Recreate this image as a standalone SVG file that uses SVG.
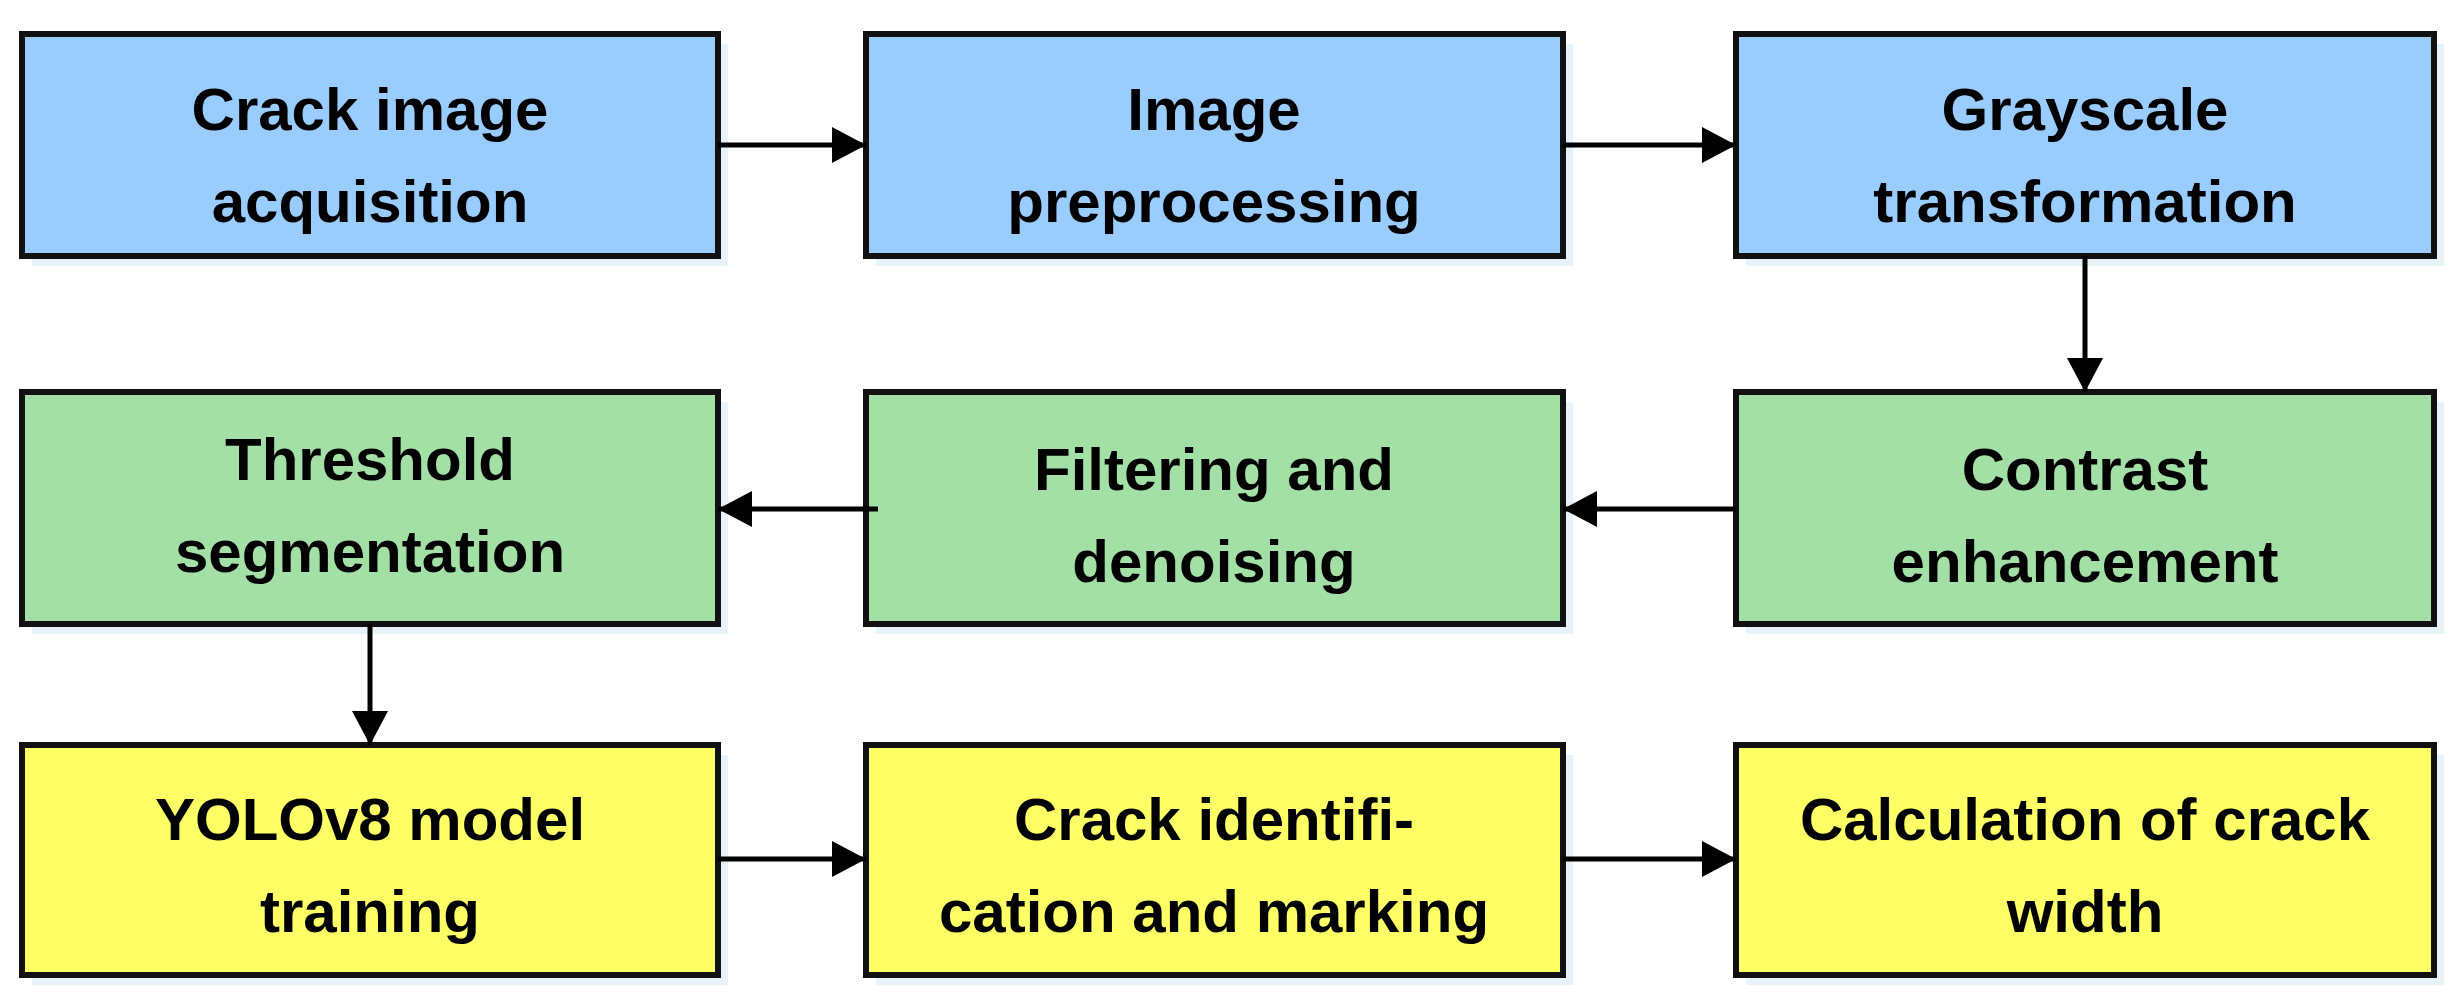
<svg xmlns="http://www.w3.org/2000/svg" width="2459" height="1002" viewBox="0 0 2459 1002">
<style>
.b{stroke:#111;stroke-width:6}
.s{fill:#e6f3fb}
.blue{fill:#99ccff}.green{fill:#a3e0a5}.yellow{fill:#ffff66}
text{font-family:"Liberation Sans",Arial,sans-serif;font-weight:bold;font-size:60px;fill:#000;text-anchor:middle}
.c{stroke:#000;stroke-width:5;fill:none;marker-end:url(#a)}
</style>
<defs><marker id="a" markerUnits="userSpaceOnUse" markerWidth="34" markerHeight="36" refX="34" refY="18" orient="auto"><path d="M0,0L34,18L0,36z" fill="#000"/></marker></defs>
<rect width="2459" height="1002" fill="#fff"/>
<g id="n1"><rect class="s" x="32" y="44" width="696" height="222"/><rect class="b blue" x="22" y="34" width="696" height="222"/><text x="370" y="130">Crack image</text><text x="370" y="222">acquisition</text></g>
<g id="n2"><rect class="s" x="876" y="44" width="697" height="222"/><rect class="b blue" x="866" y="34" width="697" height="222"/><text x="1214" y="130">Image</text><text x="1214" y="222">preprocessing</text></g>
<g id="n3"><rect class="s" x="1746" y="44" width="698" height="222"/><rect class="b blue" x="1736" y="34" width="698" height="222"/><text x="2085" y="130">Grayscale</text><text x="2085" y="222">transformation</text></g>
<g id="n4"><rect class="s" x="1746" y="402" width="698" height="232"/><rect class="b green" x="1736" y="392" width="698" height="232"/><text x="2085" y="490">Contrast</text><text x="2085" y="582">enhancement</text></g>
<g id="n5"><rect class="s" x="876" y="402" width="697" height="232"/><rect class="b green" x="866" y="392" width="697" height="232"/><text x="1214" y="490">Filtering and</text><text x="1214" y="582">denoising</text></g>
<g id="n6"><rect class="s" x="32" y="402" width="696" height="232"/><rect class="b green" x="22" y="392" width="696" height="232"/><text x="370" y="480">Threshold</text><text x="370" y="572">segmentation</text></g>
<g id="n7"><rect class="s" x="32" y="755" width="696" height="230"/><rect class="b yellow" x="22" y="745" width="696" height="230"/><text x="370" y="840">YOLOv8 model</text><text x="370" y="932">training</text></g>
<g id="n8"><rect class="s" x="876" y="755" width="697" height="230"/><rect class="b yellow" x="866" y="745" width="697" height="230"/><text x="1214" y="840">Crack identifi-</text><text x="1214" y="932">cation and marking</text></g>
<g id="n9"><rect class="s" x="1746" y="755" width="698" height="230"/><rect class="b yellow" x="1736" y="745" width="698" height="230"/><text x="2085" y="840">Calculation of crack</text><text x="2085" y="932">width</text></g>
<g id="connectors">
<line class="c" x1="718" y1="145" x2="866" y2="145"/>
<line class="c" x1="1563" y1="145" x2="1736" y2="145"/>
<line class="c" x1="2085" y1="256" x2="2085" y2="392"/>
<line class="c" x1="1736" y1="509" x2="1563" y2="509"/>
<line class="c" x1="878" y1="509" x2="718" y2="509"/>
<line class="c" x1="370" y1="624" x2="370" y2="745"/>
<line class="c" x1="718" y1="859" x2="866" y2="859"/>
<line class="c" x1="1563" y1="859" x2="1736" y2="859"/>
</g>
</svg>
